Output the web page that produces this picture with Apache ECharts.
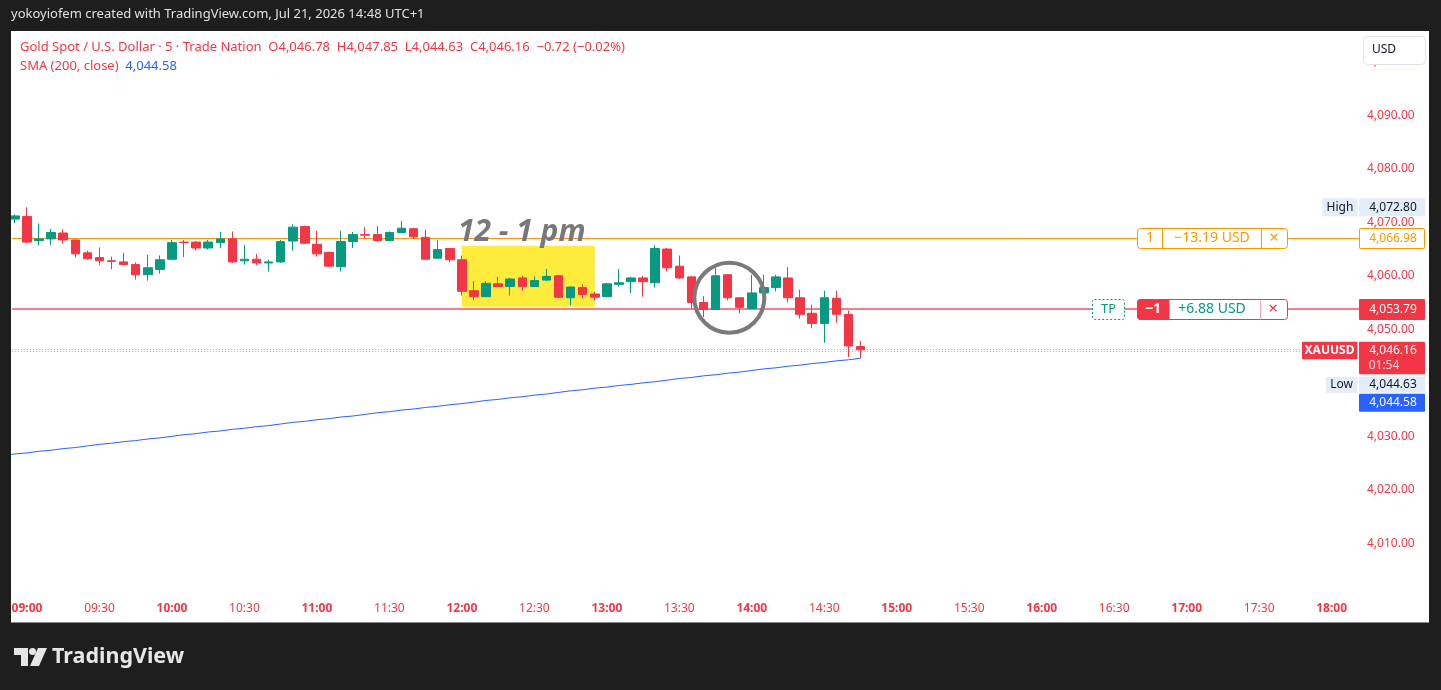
<!DOCTYPE html>
<html><head><meta charset="utf-8">
<script src="https://cdn.jsdelivr.net/npm/echarts@6/dist/echarts.min.js"></script>
<style>html,body{margin:0;padding:0;background:#1e1e1e;}#c{width:1441px;height:690px;}</style>
</head><body><div id="c"></div>
<script>
// ---------------- DATA ----------------
const times = ['08:55','09:00','09:05','09:10','09:15','09:20','09:25','09:30','09:35','09:40','09:45','09:50','09:55',
'10:00','10:05','10:10','10:15','10:20','10:25','10:30','10:35','10:40','10:45','10:50','10:55',
'11:00','11:05','11:10','11:15','11:20','11:25','11:30','11:35','11:40','11:45','11:50','11:55',
'12:00','12:05','12:10','12:15','12:20','12:25','12:30','12:35','12:40','12:45','12:50','12:55',
'13:00','13:05','13:10','13:15','13:20','13:25','13:30','13:35','13:40','13:45','13:50','13:55',
'14:00','14:05','14:10','14:15','14:20','14:25','14:30','14:35','14:40','14:45'];
const opens = [4070.6,4071.1,4066.6,4066.9,4068.0,4066.7,4064.3,4063.4,4062.8,4062.6,
4062.1,4060.2,4061.2,4063.1,4066.3,4066.3,4065.2,4066.2,4066.9,4062.8,
4063.1,4062.4,4062.6,4066.5,4069.2,4065.9,4064.4,4061.7,4066.4,4067.7,
4067.7,4066.6,4068.1,4068.8,4067.2,4063.3,4065.1,4063.0,4057.2,4056.1,
4058.5,4058.0,4059.6,4058.0,4059.2,4060.0,4055.9,4057.8,4056.6,4056.1,
4058.4,4058.9,4059.6,4058.7,4065.0,4061.8,4059.8,4055.0,4053.7,4060.2,
4055.9,4053.9,4056.8,4057.8,4059.6,4055.9,4053.0,4051.1,4055.8,4052.8,4046.78];
const closes = [4071.2,4066.3,4066.9,4068.1,4066.7,4064.1,4063.2,4062.8,4062.7,4062.1,
4060.2,4061.5,4063.0,4066.2,4066.2,4065.2,4066.3,4066.9,4062.6,4063.1,
4062.4,4062.6,4066.4,4069.1,4066.1,4064.1,4061.8,4066.4,4067.7,4067.6,
4066.6,4068.1,4068.9,4067.3,4063.1,4064.9,4063.0,4057.1,4056.1,4058.6,
4058.0,4059.4,4058.0,4059.1,4059.9,4056.0,4057.9,4056.5,4056.0,4058.5,
4058.7,4059.6,4058.9,4065.1,4061.5,4059.6,4055.0,4053.7,4060.0,4055.9,
4054.1,4056.8,4057.8,4059.8,4055.9,4052.8,4051.1,4055.9,4052.8,4046.88,4046.16];
const lows = [4069.8,4066.1,4065.7,4065.8,4066.0,4063.4,4063.0,4062.0,4061.2,4062.0,
4059.3,4059.1,4060.4,4063.0,4063.5,4064.7,4064.9,4065.2,4062.4,4062.1,
4062.0,4060.8,4062.4,4064.7,4066.0,4063.6,4061.7,4060.8,4065.2,4066.9,
4066.4,4066.5,4068.0,4066.9,4063.0,4063.2,4062.5,4056.3,4055.4,4056.0,
4057.9,4056.3,4057.2,4057.9,4059.0,4055.9,4054.5,4055.8,4055.4,4056.0,
4058.0,4056.8,4056.1,4057.8,4060.8,4059.4,4053.8,4052.3,4053.6,4055.4,
4053.0,4053.8,4056.7,4057.1,4055.0,4052.0,4050.2,4047.5,4051.2,4044.8,4044.63];
const highs = [4071.5,4072.8,4069.8,4068.8,4068.7,4066.8,4064.7,4065.3,4063.6,4064.3,
4062.5,4063.9,4063.8,4066.7,4066.7,4066.5,4066.7,4068.2,4068.3,4065.8,
4064.1,4063.0,4066.7,4069.6,4069.4,4068.4,4064.5,4068.4,4068.2,4069.1,
4069.3,4068.3,4070.3,4069.0,4068.6,4066.6,4065.2,4063.8,4059.0,4059.0,
4059.8,4059.6,4060.0,4059.9,4061.3,4060.2,4058.0,4058.4,4057.0,4058.7,
4061.3,4059.8,4060.0,4065.8,4065.2,4063.8,4060.0,4056.2,4061.6,4060.3,
4056.0,4060.2,4060.2,4060.2,4061.6,4057.4,4054.6,4057.2,4057.2,4053.5,4047.85];
const smaTimes = ['08:50'].concat(times);
const sma200 = [4026.4,4026.7,4026.9,4027.2,4027.4,4027.7,4027.9,4028.2,4028.5,4028.7,4029.0,
4029.2,4029.5,4029.7,4030.0,4030.3,4030.5,4030.8,4031.0,4031.3,4031.5,
4031.8,4032.0,4032.3,4032.6,4032.8,4033.1,4033.3,4033.6,4033.8,4034.1,
4034.4,4034.6,4034.9,4035.1,4035.4,4035.6,4035.9,4036.1,4036.4,4036.7,
4036.9,4037.2,4037.4,4037.7,4037.9,4038.2,4038.5,4038.7,4039.0,4039.2,
4039.5,4039.7,4040.0,4040.2,4040.5,4040.8,4041.0,4041.3,4041.5,4041.8,
4042.0,4042.3,4042.6,4042.8,4043.1,4043.3,4043.6,4043.8,4044.1,4044.3,4044.58];
const timeTicks = ['09:00','09:30','10:00','10:30','11:00','11:30','12:00','12:30','13:00','13:30',
'14:00','14:30','15:00','15:30','16:00','16:30','17:00','17:30','18:00'];
const priceTicks = [4010,4020,4030,4040,4050,4060,4070,4080,4090,4100];
const entryPrice = 4066.98, entryPnl = '−13.19 USD', entryQty = '1';
const tpPrice = 4053.79, tpPnl = '+6.88 USD', tpQty = '−1';
const countdown = '01:54';
const boxStart = '12:00', boxEnd = '12:55', boxTop = 4065.6, boxBottom = 4054.2;
const noteText = '12 - 1 pm';
const circleAt = ['13:50', 4055.9];
const headerText = 'yokoyiofem created with TradingView.com, Jul 21, 2026 14:48 UTC+1';
const titleText = 'Gold Spot / U.S. Dollar · 5 · Trade Nation';

// ---------------- CHART ----------------
const FONT = "'Noto Sans', 'Open Sans', sans-serif";
const RED = '#f23645', GREEN = '#089981', ORANGE = '#ff9800', BLUE = '#2962ff', BG = '#1e1e1e';
const X_MIN = -1.2417, X_MAX = 110.017;
const idx = t => { const p = t.split(':').map(Number); return (p[0] * 60 + p[1] - 540) / 5; };
const fmtP = v => v.toLocaleString('en-US', {minimumFractionDigits: 2, maximumFractionDigits: 2});
const minus = s => s.replace('-', '−');
const candleData = times.map((t, i) => [idx(t), opens[i], closes[i], lows[i], highs[i]]);
const smaData = smaTimes.map((t, i) => [idx(t), sma200[i]]);
const n = times.length;
const lastC = closes[n - 1];
const lastSma = sma200[sma200.length - 1];

const chart = echarts.init(document.getElementById('c'));
chart.setOption({
  backgroundColor: BG,
  animation: false,
  grid: {left: 12, top: 31, width: 1344, height: 565.8},
  xAxis: {
    type: 'value', min: X_MIN, max: X_MAX,
    axisLine: {show: false}, axisTick: {show: false}, splitLine: {show: false},
    axisLabel: {
      customValues: timeTicks.map(idx), margin: 6,
      formatter: v => { const t = timeTicks[timeTicks.map(idx).indexOf(v)]; return t.endsWith(':00') ? '{h|' + t + '}' : '{m|' + t + '}'; },
      rich: {
        h: {color: RED, fontSize: 12, fontWeight: 'bold', fontFamily: FONT},
        m: {color: RED, fontSize: 12, fontWeight: 'normal', fontFamily: FONT}
      }
    }
  },
  yAxis: {
    type: 'value', position: 'right', min: 4000, max: 4105.76, scale: true,
    axisLine: {show: false}, axisTick: {show: false}, splitLine: {show: false},
    axisLabel: {customValues: priceTicks, formatter: fmtP, color: RED, fontSize: 12, fontFamily: FONT, margin: 11}
  },
  series: [
    {
      type: 'candlestick', data: candleData, encode: {x: 0, y: [1, 2, 3, 4]}, barWidth: 9, z: 5,
      itemStyle: {color: GREEN, color0: RED, borderColor: GREEN, borderColor0: RED, borderWidth: 1}
    },
    {type: 'line', data: smaData, symbol: 'none', lineStyle: {color: BLUE, width: 1}, z: 6}
  ]
});

const px = v => chart.convertToPixel({xAxisIndex: 0}, v);
const py = v => chart.convertToPixel({yAxisIndex: 0}, v);
const txt = (x, y, s, fill, font, align, extra) => Object.assign({
  type: 'text', x: x, y: y, z: 20,
  style: {text: s, fill: fill, font: font, align: align || 'left', verticalAlign: 'middle', textAlign: align || 'left', textVerticalAlign: 'middle'}
}, extra || {});
const box = (x, y, w, h, fill, stroke, r, extra) => Object.assign({
  type: 'rect', z: 19, shape: {x: x, y: y, width: w, height: h, r: r || 0},
  style: {fill: fill, stroke: stroke || null, lineWidth: 1}
}, extra || {});
const hline = (y, x1, x2, stroke, dash, w, z) => ({type: 'line', z: z || 3, shape: {x1: x1, y1: y, x2: x2, y2: y},
  style: {stroke: stroke, lineWidth: w || 1, lineDash: dash || null}});
const F = (s, w) => (w || 'normal') + ' ' + s + 'px ' + FONT;

const els = [];
// pane
els.push({type: 'rect', z: -10, shape: {x: 11, y: 31, width: 1418, height: 591}, style: {fill: '#ffffff'}});
els.push({type: 'line', z: -9, shape: {x1: 11, y1: 622.5, x2: 1429, y2: 622.5}, style: {stroke: '#8c8c8c', lineWidth: 1}});
els.push({type: 'rect', z: 100, shape: {x: 0, y: 31, width: 11, height: 600}, style: {fill: BG}});
// horizontal price lines
const ye = Math.round(py(entryPrice)) + 0.5, yt = Math.round(py(tpPrice)) + 0.5, yc = py(lastC);
els.push(hline(ye, 12, 1359, ORANGE));
els.push(hline(yt - 0.5, 12, 1359, '#f4525f', null, 1.4));
els.push(hline(Math.round(yc) - 0.5, 12, 1302, '#f2a3ab', [1, 2]));
els.push(hline(Math.round(yc) + 1.5, 12, 1302, '#a9b8f0', [1, 2]));
// header & legend
els.push(txt(11, 14, headerText, '#e0e0e0', F(13)));
const o = opens[n - 1], h = highs[n - 1], l = lows[n - 1], c = closes[n - 1], ch = c - closes[n - 2];
const legend1 = titleText + '  O' + fmtP(o) + '  H' + fmtP(h) + '  L' + fmtP(l) + '  C' + fmtP(c) + '  ' +
  minus(ch.toFixed(2)) + ' (' + minus((ch / closes[n - 2] * 100).toFixed(2)) + '%)';
els.push(txt(20, 47, legend1, RED, F(13)));
els.push({type: 'text', x: 20, y: 66, z: 20, style: {
  text: '{a|SMA (200, close)}  {b|' + fmtP(lastSma) + '}', verticalAlign: 'middle', textVerticalAlign: 'middle',
  rich: {a: {fill: RED, font: F(13)}, b: {fill: BLUE, font: F(13)}}}});
// logo
els.push({type: 'polygon', z: 20, shape: {points: [[14, 648], [28, 648], [28, 666], [21, 666], [21, 655], [14, 655]]}, style: {fill: '#e6e6e6'}});
els.push({type: 'circle', z: 20, shape: {cx: 32.5, cy: 651.5, r: 3.5}, style: {fill: '#e6e6e6'}});
els.push({type: 'polygon', z: 20, shape: {points: [[38, 648], [47, 648], [39, 666], [30, 666]]}, style: {fill: '#e6e6e6'}});
els.push(txt(52, 657, 'TradingView', '#e6e6e6', F(21.5, 'bold')));
// yellow zone + note + circle
const bx0 = px(idx(boxStart)), bx1 = px(idx(boxEnd)), by0 = py(boxTop), by1 = py(boxBottom);
els.push({type: 'rect', z: 1, shape: {x: bx0, y: by0, width: bx1 - bx0, height: by1 - by0}, style: {fill: '#ffeb3b'}});
els.push({type: 'text', x: bx0 - 4, y: by0 + 2, z: 20, style: {text: noteText, fill: '#787878', font: 'italic bold 30px ' + FONT,
  align: 'left', verticalAlign: 'bottom', textAlign: 'left', textVerticalAlign: 'bottom'}});
els.push({type: 'circle', z: 20, shape: {cx: px(idx(circleAt[0])) + 1.7, cy: py(circleAt[1]), r: 35}, style: {fill: null, stroke: '#7a7a7a', lineWidth: 4}});
// USD button
els.push(box(1363.5, 36.5, 62, 28, '#ffffff', '#e0e3eb', 4));
els.push(txt(1372, 49.5, 'USD', '#131722', F(12)));
// entry (orange) order box
els.push(box(1137.5, ye - 10, 150, 20, '#ffffff', ORANGE, 3));
els.push({type: 'line', z: 20, shape: {x1: 1162.5, y1: ye - 10, x2: 1162.5, y2: ye + 10}, style: {stroke: ORANGE}});
els.push({type: 'line', z: 20, shape: {x1: 1261.5, y1: ye - 10, x2: 1261.5, y2: ye + 10}, style: {stroke: ORANGE}});
els.push(txt(1150, ye, entryQty, ORANGE, F(14), 'center'));
els.push(txt(1212, ye, entryPnl, ORANGE, F(14), 'center'));
els.push(txt(1274, ye, '×', ORANGE, F(17), 'center'));
// TP (red) order box
els.push(box(1092.5, yt - 10, 32, 20, '#ffffff', GREEN, 2, {style: {fill: '#ffffff', stroke: GREEN, lineWidth: 1, lineDash: [2, 2]}}));
els.push(txt(1108.5, yt, 'TP', GREEN, F(13), 'center'));
els.push(box(1137.5, yt - 10, 150, 20, '#ffffff', RED, 3));
els.push(box(1137.5, yt - 10, 31.5, 20, RED, RED, [3, 0, 0, 3]));
els.push({type: 'line', z: 20, shape: {x1: 1260.5, y1: yt - 10, x2: 1260.5, y2: yt + 10}, style: {stroke: '#f7a5ad'}});
els.push(txt(1153, yt, tpQty, '#ffffff', F(14, 'bold'), 'center'));
els.push(txt(1212, yt, tpPnl, GREEN, F(14), 'center'));
els.push(txt(1273, yt, '×', RED, F(17), 'center'));
// right axis tags
const TX = 1359, TW = 66, TC = 1393;
const hiV = Math.max.apply(null, highs), loV = Math.min.apply(null, lows);
const yH = py(hiV);
els.push(box(1322.5, yH - 9, 35, 18, '#e3ecf9'));
els.push(txt(1340, yH, 'High', '#131722', F(12), 'center'));
els.push(box(TX, yH - 9, TW, 18, '#e3ecf9'));
els.push(txt(TC, yH, fmtP(hiV), '#131722', F(12), 'center'));
els.push(box(TX + 0.5, ye - 10, TW - 1, 20, '#ffffff', ORANGE, 1));
els.push(txt(TC, ye, fmtP(entryPrice), ORANGE, F(12), 'center'));
els.push(box(TX, yt - 10.5, TW, 21, RED, null, 1));
els.push(txt(TC, yt, fmtP(tpPrice), '#ffffff', F(12), 'center'));
els.push(box(1302, yc - 8, 55.5, 17.5, RED, null, 1));
els.push(txt(1329.5, yc + 0.5, 'XAUUSD', '#ffffff', F(12, 'bold'), 'center'));
els.push(box(TX, yc - 8, TW, 32.5, RED, null, 1));
els.push(txt(TC, yc + 1, fmtP(lastC), '#ffffff', F(12), 'center'));
els.push(txt(TC - 9, yc + 16, countdown, '#ffd6da', F(12), 'center'));
const yL = yc + 27;
els.push(box(1326, yL, 31.5, 16, '#e3ecf9'));
els.push(txt(1341.5, yL + 8, 'Low', '#131722', F(12), 'center'));
els.push(box(TX, yL, TW, 16, '#e3ecf9'));
els.push(txt(TC, yL + 8, fmtP(loV), '#131722', F(12), 'center'));
els.push(box(TX, yL + 17, TW, 18, BLUE, null, 1));
els.push(txt(TC, yL + 26, fmtP(lastSma), '#ffffff', F(12), 'center'));

chart.setOption({graphic: {elements: els}});
</script>
</body></html>
